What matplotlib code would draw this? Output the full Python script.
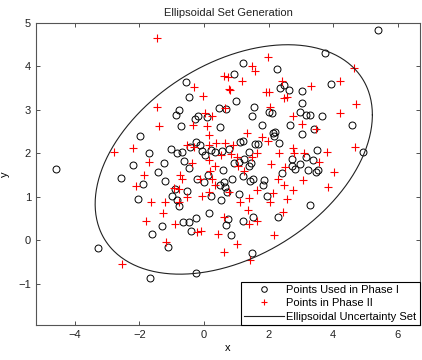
import numpy as np
import matplotlib
matplotlib.use('Agg')
import matplotlib.pyplot as plt

plt.rcParams['font.family'] = ['Liberation Sans', 'DejaVu Sans']
plt.rcParams['font.size'] = 8

# points used in phase I (black circles)
phase1_x = [5.37, 3.74, 1.20, 2.27, 0.94, -0.57, 3.93, 2.48, 2.35, 2.64, 3.03, -0.46, 0.99, 3.03,
            0.45, 0.68, -0.79, 1.55, -0.88, 2.01, 2.10, 2.98, 3.15, 3.27, 3.65, -0.18, 1.47, -0.28,
            0.10, -0.71, 0.50, 1.79, 2.12, 2.20, 2.17, 2.33, 2.66, 3.03, 3.40, 4.59, -1.98, 4.93,
            -1.70, -1.01, -0.84, -0.69, -0.43, -0.26, -0.12, -0.07, 0.02, 0.22, 0.33, 0.55, 0.78,
            1.11, 1.20, 1.39, 1.57, 1.66, 0.92, 1.09, 1.25, 1.45, 1.40, 2.72, 2.72, 2.81, 2.97,
            3.15, 3.38, 3.50, 3.22, 3.47, 3.53, 2.42, -2.19, -2.56, -1.88, -2.04, -1.41, -1.24,
            -1.22, -0.62, -0.45, -0.21, 0.00, 0.12, 0.58, 0.62, 0.49, 0.65, 0.87, 1.20, 1.42, 1.50,
            1.87, 1.84, 1.94, 1.09, 0.70, -0.52, -0.91, -0.98, -0.83, -0.76, 0.23, 0.53, 3.28,
            0.16, -0.66, -0.46, -0.25, -1.30, -1.62, -0.40, 0.67, 0.73, 1.20, 1.50, 2.28, 0.82,
            -4.58, -3.27, -1.13, -1.67, -0.25, 1.49]
phase1_y = [4.84, 4.30, 4.09, 3.93, 3.82, 3.64, 3.59, 3.58, 3.50, 3.46, 3.44, 3.30, 3.20, 3.15,
            3.04, 3.03, 3.00, 3.06, 2.89, 2.95, 2.93, 2.95, 2.89, 2.89, 2.86, 2.86, 2.87, 2.80,
            2.84, 2.63, 2.61, 2.66, 2.47, 2.49, 2.40, 2.23, 2.66, 2.44, 2.57, 2.65, 2.40, 2.04,
            2.00, 2.11, 2.01, 2.04, 2.14, 2.27, 2.19, 2.05, 1.96, 2.07, 2.02, 2.05, 2.11,
            2.26, 2.29, 2.03, 2.21, 2.21, 1.77, 1.80, 1.86, 1.77, 1.71, 1.88, 1.71, 1.65, 1.75,
            1.92, 1.85, 2.07, 1.62, 1.57, 1.61, 1.54, 1.73, 1.43, 1.30, 0.95, 1.57, 1.78,
            1.37, 1.82, 1.67, 1.42, 1.34, 1.51, 1.61, 1.34, 1.27, 1.23, 1.40, 1.47, 1.36, 1.40,
            1.38, 1.27, 1.02, 1.06, 1.10, 1.14, 1.19, 1.02, 0.92, 0.78, 1.01, 0.92, 0.82,
            0.63, 0.43, 0.43, 0.52, 0.33, 0.15, 0.21, 0.34, 0.48, 0.44, 0.54, 0.54, 0.11,
            1.63, -0.18, -0.15, -0.87, -0.75, -0.29]

# points in phase II (red plus)
phase2_x = [-1.44, 1.97, 4.64, 1.49, 1.59, 0.63, 0.75, 1.18, 2.40, 4.22, -0.30, 3.31, 0.76, 0.80,
            1.91, 2.02, -0.02, 2.47, 2.56, 4.69, -1.47, 0.64, 2.04, 4.20, 0.03, 2.76, 0.25,
            -1.38, -0.33, 0.10, 3.03, 3.48, 1.32, 1.78, 1.98, 0.15, -0.52, -0.31, 0.14, 0.37,
            0.65, 0.91, -2.80, -2.20, -1.71, -1.85, -2.10, -0.74, -0.69, 0.54, 0.85, 1.03, 1.48,
            1.63, 2.07, 2.31, 2.51, 2.76, 2.78, 3.10, 3.79, 3.57, 4.03, 3.85, 3.05, 4.67, 2.30,
            2.46, 2.76, 2.12, 2.04, 2.58, 1.40, 1.37, 1.40, 1.63, 1.65, 2.16, 2.43, 1.11, 0.76,
            -0.07, 0.15, 0.34, -0.12, 0.26, -0.54, -0.93, -0.76, -1.21, -1.65, -1.26, -1.80,
            -0.90, -0.23, -0.08, 0.44, 0.63, -0.76, -0.38, 0.15, 0.35, 0.20, 1.05, 1.25,
            -1.17, -2.55, 0.62, 1.01, 1.42]
phase2_y = [4.65, 4.21, 3.97, 4.01, 3.90, 3.78, 3.76, 3.66, 3.66, 3.66, 3.52, 3.56, 3.49, 3.46,
            3.41, 3.42, 3.33, 3.27, 3.29, 3.13, 3.06, 3.05, 3.07, 2.92, 2.94, 2.87, 2.87,
            2.63, 2.66, 2.63, 2.67, 2.55, 2.46, 2.38, 2.29, 2.43, 2.19, 2.15, 2.19, 2.23,
            2.24, 2.19, 2.03, 2.13, 1.81, 1.51, 1.24, 1.51, 1.40, 1.96, 1.98, 1.92, 1.92,
            2.01, 1.75, 2.00, 1.69, 2.13, 2.00, 2.00, 2.03, 1.80, 1.57, 1.23, 1.38, 2.14, 1.42,
            1.27, 1.15, 1.09, 0.88, 0.96, 0.98, 0.69, 0.38, 1.15, 0.45, 0.12, 0.65, 0.88, 1.11,
            1.02, 1.11, 1.27, 1.40, 1.40, 1.00, 1.21, 1.17, 0.87, 0.89, 0.63, 0.44,
            0.38, 0.19, 0.22, 0.15, 0.54, 0.89, 1.78, 1.85, 1.70, 1.60, 1.70, 1.60,
            -0.04, -0.54, -0.28, -0.08, -0.46]

# ellipsoidal uncertainty set: centre and shape matrix
centre = np.array([0.92, 1.86])
shape = np.array([[18.4, 4.4],
                  [4.4, 6.97]])

t = np.linspace(0, 2 * np.pi, 400)
L = np.linalg.cholesky(shape)
ell = centre[:, None] + L @ np.vstack([np.cos(t), np.sin(t)])

fig = plt.figure(figsize=(4.22, 3.6), dpi=100)
ax = fig.add_axes([0.0853, 0.0972, 0.9097, 0.8389])

ax.plot(phase1_x, phase1_y, 'o', mfc='none', mec='black', ms=5, mew=0.7,
        label='Points Used in Phase I')
ax.plot(phase2_x, phase2_y, '+', color='red', ms=6, mew=0.8, label='Points in Phase II')
ax.plot(ell[0], ell[1], color='#222222', lw=0.8, label='Ellipsoidal Uncertainty Set')

ax.set_xlim(-5.2, 6.68)
ax.set_ylim(-1.95, 5)
ax.set_xticks([-4, -2, 0, 2, 4, 6])
ax.set_yticks([-1, 0, 1, 2, 3, 4, 5])
ax.tick_params(direction='in', top=True, right=True, length=3, width=0.6, colors='#333333',
               labelsize=8, labelcolor='#222222')
for s in ax.spines.values():
    s.set_color('#555555')
    s.set_linewidth(0.8)

ax.set_title('Ellipsoidal Set Generation', fontsize=8, color='#222222', pad=5)
ax.set_xlabel('x', fontsize=8, labelpad=2)
ax.set_ylabel('y', fontsize=8, labelpad=6)

leg = ax.legend(loc='lower right', borderaxespad=0, fancybox=False, framealpha=1,
                edgecolor='black', fontsize=8, handlelength=3.6, labelspacing=0.3,
                borderpad=0.3, handletextpad=0.2, markerscale=0.8)
leg.get_frame().set_linewidth(0.8)

plt.savefig('out.png', dpi=100)
